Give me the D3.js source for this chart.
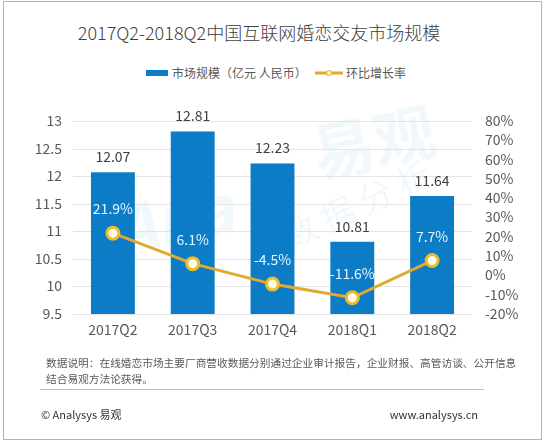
<!DOCTYPE html>
<html>
<head>
<meta charset="utf-8">
<script src="https://cdn.jsdelivr.net/npm/d3@7"></script>
<style>
  html, body { margin: 0; padding: 0; background: #fff; }
  text { font-family: "Noto Sans CJK SC", "Noto Sans", sans-serif; }
</style>
</head>
<body>
<div id="chart"></div>
<script>
const quarters = ["2017Q2", "2017Q3", "2017Q4", "2018Q1", "2018Q2"];
const marketSize = [12.07, 12.81, 12.23, 10.81, 11.64];
const growthRate = [21.9, 6.1, -4.5, -11.6, 7.7];
const leftTicks = [9.5, 10, 10.5, 11, 11.5, 12, 12.5, 13];
const rightTicks = [-20, -10, 0, 10, 20, 30, 40, 50, 60, 70, 80];

const W = 545, H = 445;
const margin = { top: 121, right: 73, bottom: 131, left: 73 },
    width = W - margin.left - margin.right,
    height = H - margin.top - margin.bottom;

const svg = d3.select("#chart")
    .append("svg")
    .attr("width", W)
    .attr("height", H);

// outer frame
svg.append("rect")
    .attr("x", 3.5).attr("y", 1.5)
    .attr("width", 538).attr("height", 438)
    .attr("fill", "#fff")
    .attr("stroke", "#b4b4b4");

// title
svg.append("text")
    .attr("x", 259).attr("y", 40)
    .attr("text-anchor", "middle")
    .attr("font-size", "18px")
    .attr("font-weight", 300)
    .attr("fill", "#404040")
    .text("2017Q2-2018Q2中国互联网婚恋交友市场规模");

// legend
const legend = svg.append("g").attr("font-size", "12px").attr("fill", "#595959");
legend.append("rect").attr("x", 146).attr("y", 70).attr("width", 22).attr("height", 6).attr("fill", "#0b7cc5");
legend.append("text").attr("x", 172).attr("y", 77.5).text("市场规模（亿元 人民币）");
legend.append("line").attr("x1", 315).attr("x2", 343).attr("y1", 73).attr("y2", 73)
    .attr("stroke", "#e3a92c").attr("stroke-width", 3);
legend.append("circle").attr("cx", 329).attr("cy", 73).attr("r", 2.5)
    .attr("fill", "#fff8d8").attr("stroke", "#e8b830").attr("stroke-width", 1.2);
legend.append("text").attr("x", 346).attr("y", 77.5).text("环比增长率");

// watermark
const wm = svg.append("g").attr("fill", "#1f86c9").attr("opacity", 0.06);
wm.append("text").attr("transform", "translate(318,178) rotate(-12)")
    .attr("font-size", "62px").attr("font-weight", "bold").text("易观");
wm.append("text").attr("transform", "translate(120,255) rotate(-12)")
    .attr("font-size", "64px").attr("font-weight", "bold").attr("font-style", "italic").text("Ana");
wm.append("text").attr("transform", "translate(290,250) rotate(-25)")
    .attr("font-size", "34px").text("数 据 分 析");

const g = svg.append("g")
    .attr("transform", "translate(" + margin.left + "," + margin.top + ")");

// scales
const x = d3.scaleBand()
    .domain(quarters)
    .range([0, width])
    .paddingInner(0.45)
    .paddingOuter(0.225);

const y = d3.scaleLinear()
    .domain([9.5, 13])
    .range([height, 0]);

const y2 = d3.scaleLinear()
    .domain([-20, 80])
    .range([height, 0]);

// gridlines
g.append("g")
    .selectAll("line")
    .data(leftTicks)
    .enter()
    .append("line")
    .attr("x1", 0).attr("x2", width)
    .attr("y1", d => Math.round(y(d)) + 0.5)
    .attr("y2", d => Math.round(y(d)) + 0.5)
    .attr("stroke", "#e4e4e4");

// left axis
const yAxis = g.append("g")
    .call(d3.axisLeft(y).tickValues(leftTicks).tickSize(0).tickPadding(11).tickFormat(d3.format("")));
yAxis.select(".domain").remove();
yAxis.selectAll("text").attr("font-size", "14px").attr("fill", "#595959")
    .attr("font-family", "'Noto Sans CJK SC', sans-serif");

// right axis
const y2Axis = g.append("g")
    .attr("transform", "translate(" + width + ",0)")
    .call(d3.axisRight(y2).tickValues(rightTicks).tickSize(0).tickPadding(13).tickFormat(d => d + "%"));
y2Axis.select(".domain").remove();
y2Axis.selectAll("text").attr("font-size", "14px").attr("fill", "#595959")
    .attr("font-family", "'Noto Sans CJK SC', sans-serif");

// x axis
const xAxis = g.append("g")
    .attr("transform", "translate(0," + height + ")")
    .call(d3.axisBottom(x).tickSize(0).tickPadding(11));
xAxis.select(".domain").remove();
xAxis.selectAll("text").attr("font-size", "14px").attr("fill", "#595959")
    .attr("font-family", "'Noto Sans CJK SC', sans-serif");

// bars
g.selectAll(".bar")
    .data(quarters)
    .enter()
    .append("rect")
    .attr("class", "bar")
    .attr("x", d => x(d))
    .attr("y", (d, i) => y(marketSize[i]))
    .attr("width", x.bandwidth())
    .attr("height", (d, i) => height - y(marketSize[i]))
    .attr("fill", "#0b7cc5");

// bar labels
g.selectAll(".barLabel")
    .data(quarters)
    .enter()
    .append("text")
    .attr("x", d => x(d) + x.bandwidth() / 2)
    .attr("y", (d, i) => y(marketSize[i]) - 10)
    .attr("text-anchor", "middle")
    .attr("font-size", "14px")
    .attr("fill", "#404040")
    .text((d, i) => marketSize[i].toFixed(2));

// growth line
const line = d3.line()
    .x((d, i) => x(quarters[i]) + x.bandwidth() / 2)
    .y(d => y2(d));

g.append("path")
    .datum(growthRate)
    .attr("d", line)
    .attr("fill", "none")
    .attr("stroke", "#e3a92c")
    .attr("stroke-width", 3);

g.selectAll(".dot")
    .data(growthRate)
    .enter()
    .append("circle")
    .attr("cx", (d, i) => x(quarters[i]) + x.bandwidth() / 2)
    .attr("cy", d => y2(d))
    .attr("r", 6)
    .attr("fill", "#fffbe6")
    .attr("stroke", "#ebbd2e")
    .attr("stroke-width", 3);

g.selectAll(".rateLabel")
    .data(growthRate)
    .enter()
    .append("text")
    .attr("x", (d, i) => x(quarters[i]) + x.bandwidth() / 2)
    .attr("y", d => y2(d) - 19)
    .attr("text-anchor", "middle")
    .attr("font-size", "14px")
    .attr("fill", "#e6f6ff")
    .text(d => d.toFixed(1) + "%");

// footer
const foot = svg.append("g").attr("font-size", "10.7px").attr("fill", "#595959");
foot.append("text").attr("x", 46).attr("y", 367)
    .text("数据说明：在线婚恋市场主要厂商营收数据分别通过企业审计报告，企业财报、高管访谈、公开信息");
foot.append("text").attr("x", 46).attr("y", 383).text("结合易观方法论获得。");

svg.append("line")
    .attr("x1", 40).attr("x2", 484)
    .attr("y1", 389.5).attr("y2", 389.5)
    .attr("stroke", "#bdbdbd");

svg.append("text").attr("x", 41).attr("y", 419)
    .attr("font-size", "11px").attr("fill", "#333")
    .text("© Analysys 易观");
svg.append("text").attr("x", 478).attr("y", 419)
    .attr("text-anchor", "end")
    .attr("font-size", "11px").attr("fill", "#333")
    .text("www.analysys.cn");
</script>
</body>
</html>
